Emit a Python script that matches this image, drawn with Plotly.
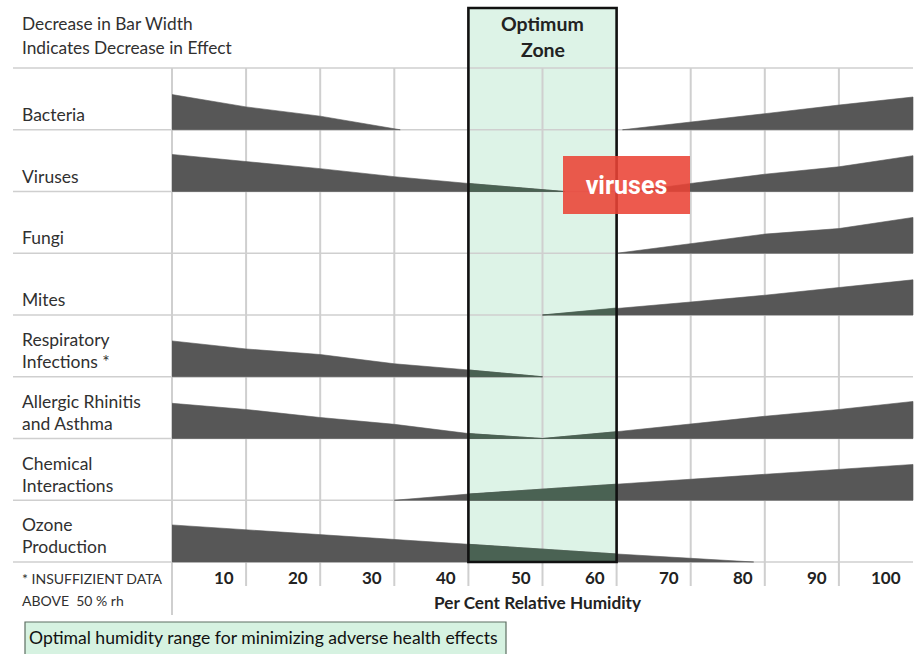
import plotly.graph_objects as go

# ---------------- data ----------------
rows = ["Bacteria", "Viruses", "Fungi", "Mites",
        "Respiratory<br>Infections *", "Allergic Rhinitis<br>and Asthma",
        "Chemical<br>Interactions", "Ozone<br>Production"]

# wedge segments: (row index, humidity values, relative bar width as fraction of row height)
bacteria_low_x = [0, 10, 20, 30.8]
bacteria_low_w = [0.57, 0.37, 0.22, 0.0]
bacteria_high_x = [60.8, 70, 80, 90, 100]
bacteria_high_w = [0.0, 0.13, 0.26, 0.40, 0.53]
viruses_low_x = [0, 10, 20, 30, 40, 53]
viruses_low_w = [0.60, 0.49, 0.37, 0.24, 0.13, 0.0]
viruses_high_x = [62, 70, 80, 90, 100]
viruses_high_w = [0.0, 0.13, 0.28, 0.40, 0.58]
fungi_x = [60, 70, 80, 90, 100]
fungi_w = [0.0, 0.15, 0.31, 0.40, 0.58]
mites_x = [50, 60, 70, 80, 90, 100]
mites_w = [0.0, 0.10, 0.21, 0.32, 0.44, 0.57]
resp_x = [0, 10, 20, 30, 40, 50]
resp_w = [0.58, 0.45, 0.36, 0.21, 0.11, 0.0]
allergic_x = [0, 10, 20, 30, 40, 50, 60, 70, 80, 90, 100]
allergic_w = [0.57, 0.47, 0.34, 0.23, 0.08, 0.0, 0.11, 0.24, 0.36, 0.47, 0.60]
chemical_x = [30, 40, 50, 60, 70, 80, 90, 100]
chemical_w = [0.0, 0.10, 0.18, 0.26, 0.34, 0.42, 0.50, 0.58]
ozone_x = [0, 10, 20, 30, 40, 50, 60, 70, 78.5]
ozone_w = [0.60, 0.52, 0.45, 0.37, 0.29, 0.21, 0.13, 0.06, 0.0]

segments = [
    (0, bacteria_low_x, bacteria_low_w), (0, bacteria_high_x, bacteria_high_w),
    (1, viruses_low_x, viruses_low_w), (1, viruses_high_x, viruses_high_w),
    (2, fungi_x, fungi_w), (3, mites_x, mites_w), (4, resp_x, resp_w),
    (5, allergic_x, allergic_w), (6, chemical_x, chemical_w), (7, ozone_x, ozone_w),
]

grid_x = [0, 10, 20, 30, 40, 50, 60, 70, 80, 90]
tick_values = [10, 20, 30, 40, 50, 60, 70, 80, 90, 100]
tick_labels = ["10", "20", "30", "40", "50", "60", "70", "80", "90", "100"]
optimum_zone = [40, 60]

# ---------------- layout geometry ----------------
W, H = 915, 654
X0_PX, X100_PX = 172, 913
ROW_TOP_PX, ROW_BOT_PX = 68, 562
n_rows = len(rows)
px_per_x = (X100_PX - X0_PX) / 100.0
row_h = (ROW_BOT_PX - ROW_TOP_PX) / n_rows
x_range = [-X0_PX / px_per_x, (W - X0_PX) / px_per_x]
y_range = [(H - ROW_TOP_PX) / row_h, -ROW_TOP_PX / row_h]


def xd(px):
    return (px - X0_PX) / px_per_x


def yd(px):
    return (px - ROW_TOP_PX) / row_h


FONT = "Lato"
GRAY = "#575757"
ZONE_DARK = "#4a6253"
ZONE_FILL = "#ddf3e7"
GRID = "#cfcfcf"

fig = go.Figure()

# wedges (gray) on main axes, and tinted copies on zone-clipped axes
for axis_suffix, color in [("", GRAY), ("2", ZONE_DARK)]:
    for r, xs, ws in segments:
        base = r + 1
        top = [base - w for w in ws]
        fig.add_trace(go.Scatter(
            x=list(xs) + list(xs)[::-1],
            y=top + [base] * len(xs),
            fill="toself", fillcolor=color, mode="lines",
            line=dict(width=0.6, color=color),
            hoverinfo="skip", showlegend=False,
            xaxis="x" + axis_suffix, yaxis="y" + axis_suffix,
        ))

shapes = []
# optimum zone fill (below)
shapes.append(dict(type="rect", xref="x", yref="y", x0=optimum_zone[0], x1=optimum_zone[1],
                   y0=yd(8), y1=n_rows, fillcolor=ZONE_FILL, line=dict(width=0), layer="below"))
# horizontal lines
for i in range(n_rows + 1):
    shapes.append(dict(type="line", xref="x", yref="y", x0=xd(13), x1=100, y0=i, y1=i,
                       line=dict(color=GRID, width=1.6), layer="below"))
# vertical grid lines
for v in grid_x:
    y_end = yd(615) if v == 0 else yd(586)
    shapes.append(dict(type="line", xref="x", yref="y", x0=v, x1=v, y0=0, y1=y_end,
                       line=dict(color=GRID, width=2), layer="below"))
# optimum zone border
shapes.append(dict(type="rect", xref="x", yref="y", x0=optimum_zone[0], x1=optimum_zone[1],
                   y0=yd(8), y1=n_rows, fillcolor="rgba(0,0,0,0)",
                   line=dict(color="#111111", width=2.6), layer="above"))
# bottom legend box
shapes.append(dict(type="rect", xref="x", yref="y", x0=xd(25), x1=xd(506), y0=yd(622), y1=yd(662),
                   fillcolor="#d6f2e1", line=dict(color="#5d6e62", width=1.2), layer="above"))

ann = []
TXT = "#303030"
LAB = 17.5
LX = xd(20)
ann.append(dict(x=LX, y=yd(23), text="Decrease in Bar Width", xanchor="left", yanchor="middle",
                showarrow=False, font=dict(family=FONT, size=17.3, color=TXT)))
ann.append(dict(x=LX, y=yd(47), text="Indicates Decrease in Effect", xanchor="left", yanchor="middle",
                showarrow=False, font=dict(family=FONT, size=17.3, color=TXT)))
ann.append(dict(x=sum(optimum_zone) / 2, y=yd(23), text="<b>Optimum</b>", xanchor="center", yanchor="middle",
                showarrow=False, font=dict(family=FONT, size=19.5, color="#222222")))
ann.append(dict(x=sum(optimum_zone) / 2, y=yd(49), text="<b>Zone</b>", xanchor="center", yanchor="middle",
                showarrow=False, font=dict(family=FONT, size=19.5, color="#222222")))

for i, name in enumerate(rows):
    lines = name.split("<br>")
    if len(lines) == 1:
        ann.append(dict(x=LX, y=i + 0.75, text=lines[0], xanchor="left", yanchor="middle",
                        showarrow=False, font=dict(family=FONT, size=LAB, color=TXT)))
    else:
        for k, ln in enumerate(lines):
            ann.append(dict(x=LX, y=i + 0.40 + k * 22 / row_h, text=ln, xanchor="left",
                            yanchor="middle", showarrow=False,
                            font=dict(family=FONT, size=LAB, color=TXT)))

for v, lab in zip(tick_values, tick_labels):
    ann.append(dict(x=v, y=yd(577), text="<b>" + lab + "</b>", xanchor="right", yanchor="middle",
                    xshift=-10, showarrow=False, font=dict(family=FONT, size=17, color="#222222")))

ann.append(dict(x=xd(538), y=yd(602), text="<b>Per Cent Relative Humidity</b>", xanchor="center",
                yanchor="middle", showarrow=False, font=dict(family=FONT, size=17.2, color="#222222")))
ann.append(dict(x=LX, y=yd(578), text="* INSUFFIZIENT DATA", xanchor="left", yanchor="middle",
                showarrow=False, font=dict(family=FONT, size=14, color=TXT)))
ann.append(dict(x=LX, y=yd(600), text="ABOVE  50 % rh", xanchor="left", yanchor="middle",
                showarrow=False, font=dict(family=FONT, size=14, color=TXT)))
ann.append(dict(x=xd(27), y=yd(637), text="Optimal humidity range for minimizing adverse health effects",
                xanchor="left", yanchor="middle", showarrow=False,
                font=dict(family=FONT, size=17.6, color="#111111")))
# red "viruses" label
ann.append(dict(x=xd(626.5), y=yd(185), text="<b>viruses</b>", xanchor="center", yanchor="middle",
                showarrow=False, width=127, height=58, borderpad=0, borderwidth=0,
                bgcolor="rgba(234,67,53,0.88)", font=dict(family="Roboto", size=25, color="white")))

# zone-clipped overlay axis domain
dom0 = (optimum_zone[0] - x_range[0]) / (x_range[1] - x_range[0])
dom1 = (optimum_zone[1] - x_range[0]) / (x_range[1] - x_range[0])

hidden = dict(showgrid=False, zeroline=False, showticklabels=False, showline=False, ticks="",
              fixedrange=True)
fig.update_layout(
    width=W, height=H,
    margin=dict(l=0, r=0, t=0, b=0),
    paper_bgcolor="white", plot_bgcolor="rgba(0,0,0,0)",
    xaxis=dict(range=x_range, domain=[0, 1], **hidden),
    yaxis=dict(range=y_range, domain=[0, 1], **hidden),
    xaxis2=dict(range=optimum_zone, domain=[dom0, dom1], anchor="y2", **hidden),
    yaxis2=dict(range=y_range, domain=[0, 1], anchor="x2", **hidden),
    shapes=shapes, annotations=ann, showlegend=False,
)

fig.write_html("out.html", config={"displayModeBar": False},
               post_script="document.body.style.margin='0';document.body.style.overflow='hidden';")
